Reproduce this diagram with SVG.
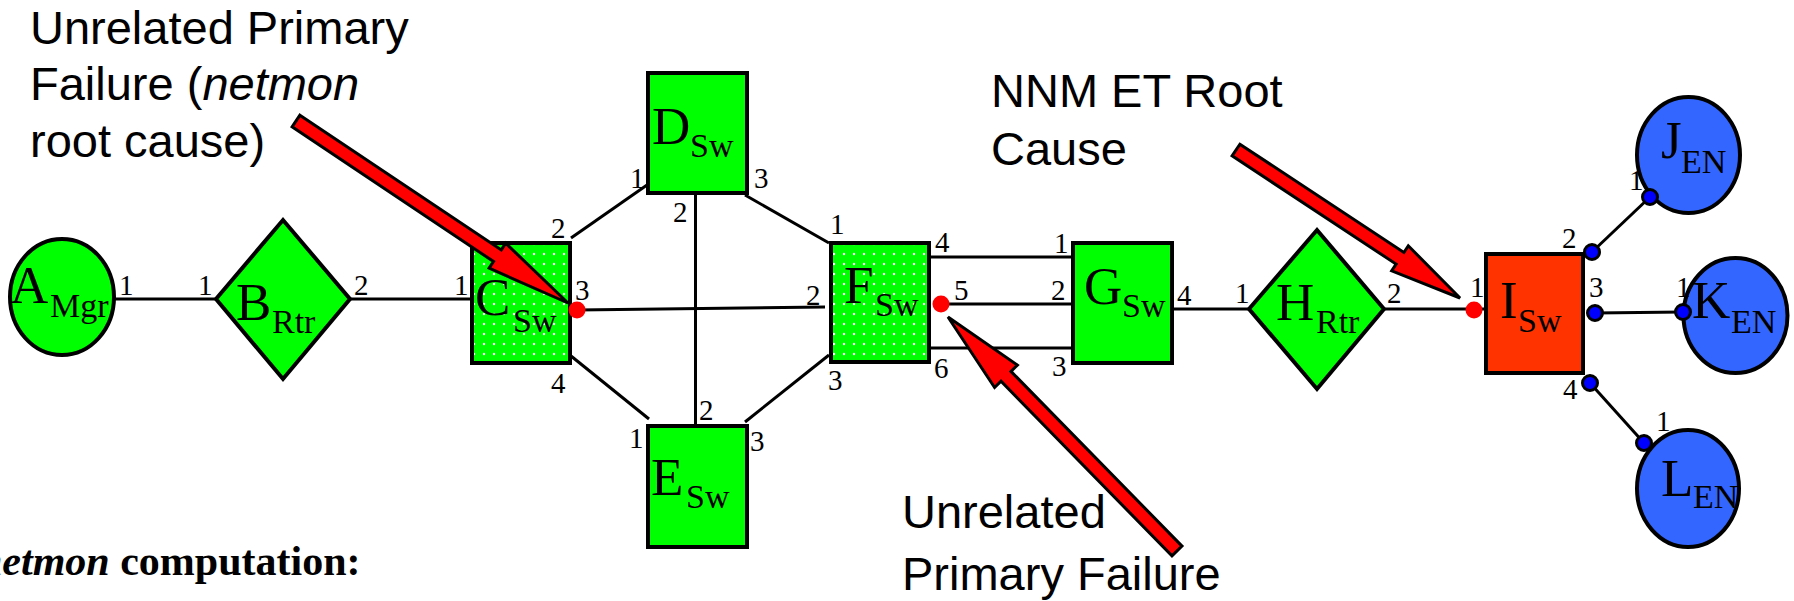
<svg xmlns="http://www.w3.org/2000/svg" width="1794" height="601" viewBox="0 0 1794 601">
<defs>
<pattern id="dots" x="0" y="0" width="10" height="10" patternUnits="userSpaceOnUse">
<rect width="10" height="10" fill="#00ff00"/>
<circle cx="4" cy="4" r="1.2" fill="#ffffff"/>
</pattern>
<style>
.g{fill:#00ff00;stroke:#000;stroke-width:4}
.gd{fill:url(#dots);stroke:#000;stroke-width:4}
.o{fill:#ff3300;stroke:#000;stroke-width:4}
.b{fill:#3366ff;stroke:#000;stroke-width:4}
.ln{stroke:#000;stroke-width:3;fill:none}
.rd{fill:#ff0000}
.bd{fill:#0000ff;stroke:#000;stroke-width:3}
.ar{fill:#ff0000;stroke:#000;stroke-width:3;stroke-linejoin:miter}
.big{font-family:"Liberation Serif","Times New Roman",serif;font-size:53px;fill:#000}
.sub{font-size:34px}
.port{font-family:"Liberation Serif","Times New Roman",serif;font-size:29px;fill:#000}
.note{font-family:"Liberation Sans",Arial,sans-serif;font-size:47px;fill:#000}
.it{font-style:italic}
.bot{font-family:"Liberation Serif","Times New Roman",serif;font-size:42px;font-weight:bold;fill:#000}
</style>
</defs>
<rect width="1794" height="601" fill="#ffffff"/>

<g id="connectors">
<line class="ln" x1="114" y1="299" x2="216" y2="299"/>
<line class="ln" x1="350" y1="299" x2="472" y2="299"/>
<line class="ln" x1="571" y1="238" x2="647" y2="185"/>
<line class="ln" x1="571" y1="356" x2="649" y2="419"/>
<line class="ln" x1="577" y1="310" x2="825" y2="307"/>
<line class="ln" x1="695.5" y1="193" x2="695.5" y2="426"/>
<line class="ln" x1="745" y1="195" x2="829" y2="243"/>
<line class="ln" x1="745" y1="422" x2="829" y2="355"/>
<line class="ln" x1="929" y1="257" x2="1073" y2="257"/>
<line class="ln" x1="941" y1="304" x2="1073" y2="304"/>
<line class="ln" x1="929" y1="348" x2="1073" y2="348"/>
<line class="ln" x1="1172" y1="309" x2="1249" y2="309"/>
<line class="ln" x1="1383" y1="309" x2="1486" y2="309"/>
<line class="ln" x1="1592" y1="252" x2="1650" y2="197"/>
<line class="ln" x1="1595" y1="313" x2="1683" y2="312"/>
<line class="ln" x1="1590" y1="383" x2="1644" y2="443"/>
</g>

<g id="node-A">
<ellipse class="g" cx="62" cy="297" rx="52" ry="58"/>
<text class="big" x="10" y="303">A<tspan class="sub" x="50" y="317">Mgr</tspan></text>
<text class="port" x="119" y="295">1</text>
</g>

<g id="node-B">
<polygon class="g" points="216,299 283,220 350,299 283,379"/>
<text class="big" x="236" y="320">B<tspan class="sub" x="272" y="333">Rtr</tspan></text>
<text class="port" x="198" y="295">1</text>
<text class="port" x="354" y="295">2</text>
</g>

<g id="node-C">
<rect class="gd" x="472" y="243" width="98" height="120"/>
<text class="big" x="475" y="315">C<tspan class="sub" x="513" y="332">Sw</tspan></text>
<text class="port" x="454" y="295">1</text>
<text class="port" x="551" y="238">2</text>
<text class="port" x="575" y="300">3</text>
<text class="port" x="551" y="393">4</text>
</g>

<g id="node-D">
<rect class="g" x="648" y="73" width="99" height="120"/>
<text class="big" x="652" y="144">D<tspan class="sub" x="690" y="157">Sw</tspan></text>
<text class="port" x="630" y="188">1</text>
<text class="port" x="673" y="222">2</text>
<text class="port" x="754" y="188">3</text>
</g>

<g id="node-E">
<rect class="g" x="648" y="426" width="99" height="121"/>
<text class="big" x="651" y="495">E<tspan class="sub" x="686" y="508">Sw</tspan></text>
<text class="port" x="629" y="448">1</text>
<text class="port" x="699" y="420">2</text>
<text class="port" x="750" y="451">3</text>
</g>

<g id="node-F">
<rect class="gd" x="831" y="243" width="98" height="119"/>
<text class="big" x="844" y="303">F<tspan class="sub" x="875" y="316">Sw</tspan></text>
<text class="port" x="830" y="234">1</text>
<text class="port" x="806" y="305">2</text>
<text class="port" x="828" y="390">3</text>
<text class="port" x="935" y="252">4</text>
<text class="port" x="954" y="300">5</text>
<text class="port" x="934" y="378">6</text>
</g>

<g id="node-G">
<rect class="g" x="1073" y="243" width="99" height="120"/>
<text class="big" x="1084" y="304">G<tspan class="sub" x="1122" y="317">Sw</tspan></text>
<text class="port" x="1054" y="253">1</text>
<text class="port" x="1051" y="300">2</text>
<text class="port" x="1052" y="376">3</text>
<text class="port" x="1177" y="305">4</text>
</g>

<g id="node-H">
<polygon class="g" points="1249,309 1317,230 1384,309 1317,389"/>
<text class="big" x="1276" y="320">H<tspan class="sub" x="1316" y="333">Rtr</tspan></text>
<text class="port" x="1235" y="303">1</text>
<text class="port" x="1387" y="303">2</text>
</g>

<g id="node-I">
<rect class="o" x="1486" y="254" width="97" height="119"/>
<text class="big" x="1500" y="318">I<tspan class="sub" x="1518" y="332">Sw</tspan></text>
<text class="port" x="1470" y="297">1</text>
<text class="port" x="1562" y="248">2</text>
<text class="port" x="1589" y="297">3</text>
<text class="port" x="1563" y="399">4</text>
</g>

<g id="node-J">
<ellipse class="b" cx="1688.5" cy="155" rx="51.5" ry="58"/>
<text class="big" x="1661" y="158">J<tspan class="sub" x="1681" y="173">EN</tspan></text>
</g>

<g id="node-K">
<ellipse class="b" cx="1735.5" cy="315.5" rx="52" ry="57.5"/>
<text class="big" x="1692" y="318">K<tspan class="sub" x="1731" y="333">EN</tspan></text>
</g>

<g id="node-L">
<ellipse class="b" cx="1688" cy="488.5" rx="51" ry="58.5"/>
<text class="big" x="1661" y="496">L<tspan class="sub" x="1693" y="508">EN</tspan></text>
</g>

<g id="ports">
<circle class="rd" cx="577" cy="310" r="8.5"/>
<circle class="rd" cx="941" cy="304" r="8.5"/>
<circle class="rd" cx="1474" cy="310" r="8.5"/>
<circle class="bd" cx="1592" cy="252" r="7.5"/>
<circle class="bd" cx="1595" cy="313" r="7.5"/>
<circle class="bd" cx="1590" cy="383" r="7.5"/>
<circle class="bd" cx="1650" cy="197" r="7.5"/>
<circle class="bd" cx="1683" cy="312" r="7.5"/>
<circle class="bd" cx="1644" cy="443" r="7.5"/>
<text class="port" x="1629" y="190">1</text>
<text class="port" x="1676" y="297">1</text>
<text class="port" x="1656" y="431">1</text>
</g>

<g id="arrows">
<polygon class="ar" points="299.9,115.2 501.3,249.9 505.7,243.2 568,303 489.1,268.2 493.5,261.5 292.1,126.8"/>
<polygon class="ar" points="1239.9,144.2 1403.9,252.5 1408.3,245.8 1460,298 1391.7,270.8 1396.1,264.1 1232.1,155.8"/>
<polygon class="ar" points="1182,546.1 1011,371.4 1017.4,365.1 948,317 994.6,387.5 1001,381.2 1172,555.9"/>
</g>

<g id="annotations">
<text class="note" x="30" y="44">Unrelated Primary</text>
<text class="note" x="30" y="100">Failure (<tspan class="it">netmon</tspan></text>
<text class="note" x="30" y="157">root cause)</text>
<text class="note" x="991" y="107">NNM ET Root</text>
<text class="note" x="991" y="165">Cause</text>
<text class="note" x="902" y="528">Unrelated</text>
<text class="note" x="902" y="590">Primary Failure</text>
<text class="bot" x="-21" y="575"><tspan class="it">netmon</tspan> computation:</text>
</g>
</svg>
